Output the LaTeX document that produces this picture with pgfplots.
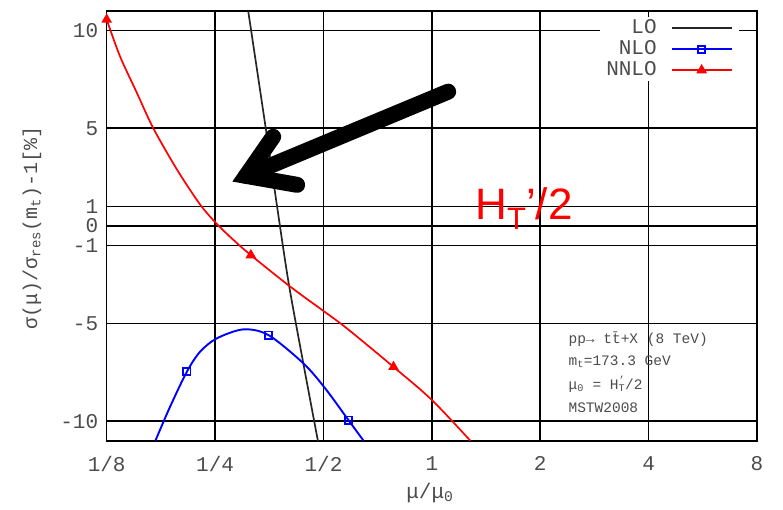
\documentclass[border=0pt]{standalone}
\usepackage{pgfplots}
\pgfplotsset{compat=1.18}
\usepackage{fontspec}
\setmainfont{Liberation Mono}
\newfontfamily\sansf{Liberation Sans}
\definecolor{txtgray}{gray}{0.3}
\begin{document}
\begin{tikzpicture}
\useasboundingbox (-106.7pt,-68.3pt) rectangle (676.3pt,440.7pt);
\begin{axis}[
  at={(0pt,0pt)}, anchor=south west,
  scale only axis, width=650.3pt, height=429.7pt,
  xmode=log, log basis x=2, xmin=0.125, xmax=8,
  ymin=-11, ymax=11,
  xtick={0.125,0.25,0.5,1,2,4,8},
  xticklabels={1/8,1/4,1/2,1,2,4,8},
  ytick={-10,-5,-1,0,1,5,10},
  yticklabels={-10,-5,-1,0,1,5,10},
  grid=major,
  major grid style={black, line width=1.6pt},
  axis line style={black, line width=1.6pt},
  tick style={black, line width=1.2pt},
  tick align=inside, major tick length=6pt,
  ticklabel style={font=\fontsize{21}{21}\selectfont, text=txtgray},
  yticklabel style={xshift=-5pt},
  xticklabel style={yshift=-12pt},
  xlabel={μ/μ\textsubscript{0}},
  ylabel={σ(μ)/σ\textsubscript{res}(m\textsubscript{t})-1[\%]},
  every axis x label/.style={at={(axis description cs:0.497,-0.122)}, anchor=center,
    font=\fontsize{21}{21}\selectfont, text=txtgray},
  every axis y label/.style={at={(axis description cs:-0.1149,0.495)}, rotate=90, anchor=center,
    font=\fontsize{20}{20}\selectfont, text=txtgray},
  legend style={at={(0.972,0.986)}, anchor=north east, draw=none, fill=white,
    font=\fontsize{21}{21}\selectfont, text=txtgray,
    nodes={inner sep=0pt, text height=13pt, text depth=3pt},
    row sep=5pt, column sep=14pt, inner xsep=6pt, inner ysep=3pt},
  legend cell align=right,
  legend plot pos=right,
  legend image code/.code={\draw[mark indices={2}] plot coordinates {(0pt,0pt) (30pt,0pt) (60pt,0pt)};},
]
\addplot[black!85, line width=1.7pt, smooth] coordinates {
(0.309,11.0) (0.3445,5.18) (0.3711,1.08) (0.3997,-2.86) (0.4353,-6.62) (0.4793,-10.72) (0.483,-11.0)
};
\addlegendentry{LO}
\addplot[blue, line width=1.9pt, smooth, mark=square, mark size=3.6pt, mark indices={3,7,10},
  mark options={solid, line width=1.8pt}] coordinates {
(0.1707,-11.0) (0.1874,-9.27) (0.2087,-7.47) (0.2270,-6.45) (0.2528,-5.76) (0.2996,-5.30)
(0.3516,-5.59) (0.4398,-7.04) (0.5055,-8.32) (0.5869,-9.95) (0.6462,-11.0)
};
\addlegendentry{NLO}
\addplot[red, line width=1.7pt, smooth, mark=triangle*, mark size=4.5pt, mark indices={1,9,13}] coordinates {
(0.125,10.56) (0.1361,8.68) (0.1517,6.80) (0.1683,5.01) (0.1957,2.90) (0.2270,1.10) (0.2528,0.10)
(0.2811,-0.72) (0.3143,-1.50) (0.4042,-3.11) (0.5055,-4.42) (0.5809,-5.25) (0.7826,-7.22)
(1.0007,-8.92) (1.279,-11.0)
};
\addlegendentry{NNLO}
% arrow annotation
\draw[black, line width=16pt, line cap=round, line join=miter]
  (axis cs:0.3625,4.56) -- (axis cs:0.3048,2.56) -- (axis cs:0.4225,2.10);
\draw[black, line width=16pt, line cap=round]
  (axis cs:1.110,6.87) -- (axis cs:0.3048,2.56);
% red label
\node[anchor=base west, inner sep=0pt, text=red, font=\sansf\fontsize{44}{44}\selectfont]
  at (axis cs:1.320,0.31) {H\raisebox{-10pt}{\fontsize{31}{31}\selectfont T}’/2};
% info box
\begin{scope}[every node/.style={anchor=base west, inner sep=0pt, text=txtgray, font=\fontsize{14.5}{14.5}\selectfont}]
\node at (axis cs:2.394,-6.0) {pp→ t\={t}+X (8 TeV)};
\node at (axis cs:2.394,-7.15) {m\textsubscript{t}=173.3 GeV};
\node at (axis cs:2.394,-8.36) {μ\textsubscript{0} = H\rlap{\textsuperscript{’}}\textsubscript{T}/2};
\node at (axis cs:2.394,-9.54) {MSTW2008};
\end{scope}
\end{axis}
\end{tikzpicture}
\end{document}
